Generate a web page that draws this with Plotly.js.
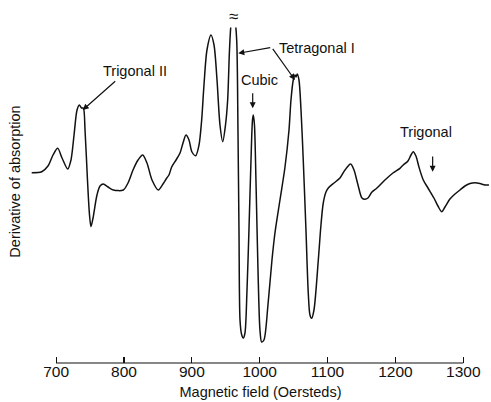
<!DOCTYPE html>
<html>
<head>
<meta charset="utf-8">
<script src="https://cdn.plot.ly/plotly-3.0.1.min.js"></script>
<style>html,body{margin:0;padding:0;background:#fff;}#chart{width:491px;height:402px;}</style>
</head>
<body>
<div id="chart"></div>
<script>
// Magnetic field (Oersteds)
const fieldOe = [664.0,678.8,688.0,695.4,702.3,708.7,717.1,721.9,726.4,730.8,734.2,737.4,740.1,742.6,746.2,749.2,751.4,754.4,760.2,764.7,769.5,776.5,784.3,799.0,805.9,813.3,820.7,827.6,833.9,841.3,850.6,857.5,863.0,866.3,870.3,876.7,882.6,887.0,891.4,895.8,900.2,905.7,910.6,914.5,917.9,922.3,928.2,932.7,937.1,941.5,945.5,949.6,952.8,955.5,957.7,959.9,963.6,966.1,968.0,969.5,971.0,973.2,975.8,978.3,981.3,984.2,987.2,989.4,990.6,992.3,994.5,997.5,1000.4,1002.9,1006.3,1012.2,1018.1,1022.5,1029.9,1037.3,1043.2,1046.1,1049.5,1052.0,1053.5,1055.4,1057.9,1060.9,1064.2,1068.2,1071.6,1074.1,1076.6,1080.0,1086.4,1090.3,1093.7,1097.7,1101.1,1109.5,1118.3,1125.7,1134.1,1139.0,1144.9,1150.7,1155.2,1159.6,1165.5,1172.4,1184.6,1196.4,1206.7,1211.6,1218.5,1223.0,1226.3,1230.3,1234.7,1241.1,1248.0,1256.8,1262.7,1268.2,1273.1,1280.4,1287.8,1295.2,1302.5,1309.9,1317.3,1324.6,1332.0,1337.9];
// Derivative of absorption (arbitrary units)
const derivative = [-0.07,0.03,0.6,1.7,2.37,1.4,0.3,1.2,3.7,6.2,6.7,6.4,6.4,4.2,-0.8,-4.3,-5.47,-4.6,-2.3,-1.4,-1.2,-1.5,-1.8,-1.8,-1.1,0.2,1.2,1.7,0.9,-0.8,-1.8,-1.2,-0.6,-0.3,0.5,1.2,1.9,2.9,3.7,3.2,2.0,1.63,2.7,5.2,8.7,12.2,13.7,12.7,9.2,4.7,3.03,4.7,7.2,12.2,14.7,15.4,15.0,13.2,4.2,-5.8,-14.8,-16.2,-16.6,-16.1,-11.8,-5.8,1.2,5.2,5.7,4.7,-0.8,-9.8,-15.8,-17.0,-16.8,-13.3,-8.8,-6.1,-2.8,0.5,4.2,7.2,9.2,9.7,9.5,9.8,9.2,6.2,1.2,-5.8,-12.1,-14.3,-14.63,-13.8,-8.8,-5.3,-3.1,-2.0,-1.6,-1.1,-0.6,0.2,0.8,0.2,-1.3,-2.6,-2.73,-2.6,-2.0,-1.63,-0.8,-0.1,0.37,0.7,1.1,1.7,2.03,1.6,0.5,-0.8,-1.6,-2.6,-3.4,-3.97,-3.5,-2.7,-2.2,-1.8,-1.4,-1.15,-1.07,-1.15,-1.3,-1.3];
const tickValues = [700, 800, 900, 1000, 1100, 1200, 1300];
const tickLabels = ["700", "800", "900", "1000", "1100", "1200", "1300"];

const FONT = "Liberation Sans, Arial, sans-serif";

const trace = {
  x: fieldOe, y: derivative, type: "scatter", mode: "lines",
  line: {color: "#111", width: 1.5, shape: "spline", smoothing: 0.8},
  hoverinfo: "skip"
};

function arrow(x, y, ax, ay) {
  return {x: x, y: y, xref: "x", yref: "y", text: "", showarrow: true,
    ax: ax, ay: ay, arrowhead: 2, arrowsize: 1, arrowwidth: 1.2, arrowcolor: "#111", standoff: 0, startstandoff: 0};
}
function label(x, y, txt) {
  return {x: x, y: y, xref: "x", yref: "y", text: txt, showarrow: false,
    font: {family: FONT, size: 14.5, color: "#111"}};
}

const layout = {
  width: 491, height: 402,
  margin: {l: 30, r: 0, t: 0, b: 39},
  paper_bgcolor: "#fff", plot_bgcolor: "#fff",
  showlegend: false,
  font: {family: FONT, color: "#111"},
  xaxis: {
    range: [661.5, 1340.9], tickvals: tickValues, ticktext: tickLabels,
    ticks: "inside", ticklen: 6, tickwidth: 1.2, tickcolor: "#111",
    ticklabelstandoff: -3,
    showline: false, showgrid: false, zeroline: false,
    tickfont: {family: FONT, size: 15.5, color: "#111"},
    title: {text: "Magnetic field (Oersteds)", font: {family: FONT, size: 14.5, color: "#111"}, standoff: 8}
  },
  yaxis: {
    range: [-19.1, 17.2], showline: false, showgrid: false, zeroline: false,
    showticklabels: false, ticks: "",
    title: {text: "Derivative of absorption", font: {family: FONT, size: 14.5, color: "#111"}, standoff: 4}
  },
  shapes: [{type: "line", xref: "x", yref: "paper", x0: 700, x1: 1300, y0: 0, y1: 0,
    line: {color: "#111", width: 1.2}}],
  annotations: [
    label(816.0, 10.1, "Trigonal II"),
    arrow(739.2, 6.2, 34, -30),
    label(1085, 12.4, "Tetragonal I"),
    arrow(968.5, 11.87, 33.4, -6),
    arrow(1052.0, 9.2, -23.3, -32.7),
    label(1000.4, 9.2, "Cubic"),
    arrow(989.7, 6.37, 0, -16.6),
    label(1244.5, 4.0, "Trigonal"),
    arrow(1254.9, 0.03, 0, -16.7),
    {x: 961.4, y: 15.6, xref: "x", yref: "y", text: "≈", showarrow: false,
      bgcolor: "#fff", font: {family: FONT, size: 17, color: "#111"}}
  ]
};

Plotly.newPlot("chart", [trace], layout, {staticPlot: true, displayModeBar: false});
</script>
</body>
</html>
